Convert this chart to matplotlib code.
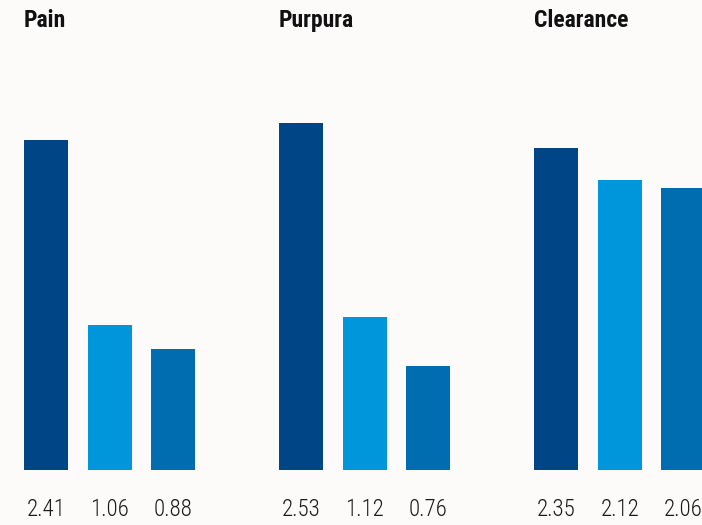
import numpy as np
import matplotlib.pyplot as plt

# data
groups = ['Pain', 'Purpura', 'Clearance']
values = [
    [2.41, 1.06, 0.88],
    [2.53, 1.12, 0.76],
    [2.35, 2.12, 2.06],
]
colors = ['#004687', '#0096dc', '#006db0']

font = ['Roboto Condensed', 'DejaVu Sans']
bg = '#fcfbfa'

fig = plt.figure(figsize=(7.02, 5.25), dpi=100, facecolor=bg)
ax = fig.add_axes([0, 55 / 525, 1, 470 / 525])
ax.set_facecolor(bg)

width = 0.69
for g, (name, vals) in enumerate(zip(groups, values)):
    x = g * 3.985 + np.arange(len(vals)) * 0.995
    ax.bar(x, vals, width=width, color=colors, linewidth=0)
    for xi, v in zip(x, vals):
        ax.text(xi, -0.336, f'{v:.2f}', ha='center', va='baseline',
                fontsize=16.5, family=font, fontweight=300, color='#1a1a1a',
                clip_on=False)
    ax.text(x[0] - width / 2, 3.235, name, ha='left', va='baseline',
            fontsize=17, family=font, fontweight='bold', color='#111111',
            clip_on=False)

ax.set_xlim(-46 / 64, 656 / 64)
ax.set_ylim(0, 3.43)
ax.axis('off')

fig.savefig('out.png', dpi=100, facecolor=bg)
